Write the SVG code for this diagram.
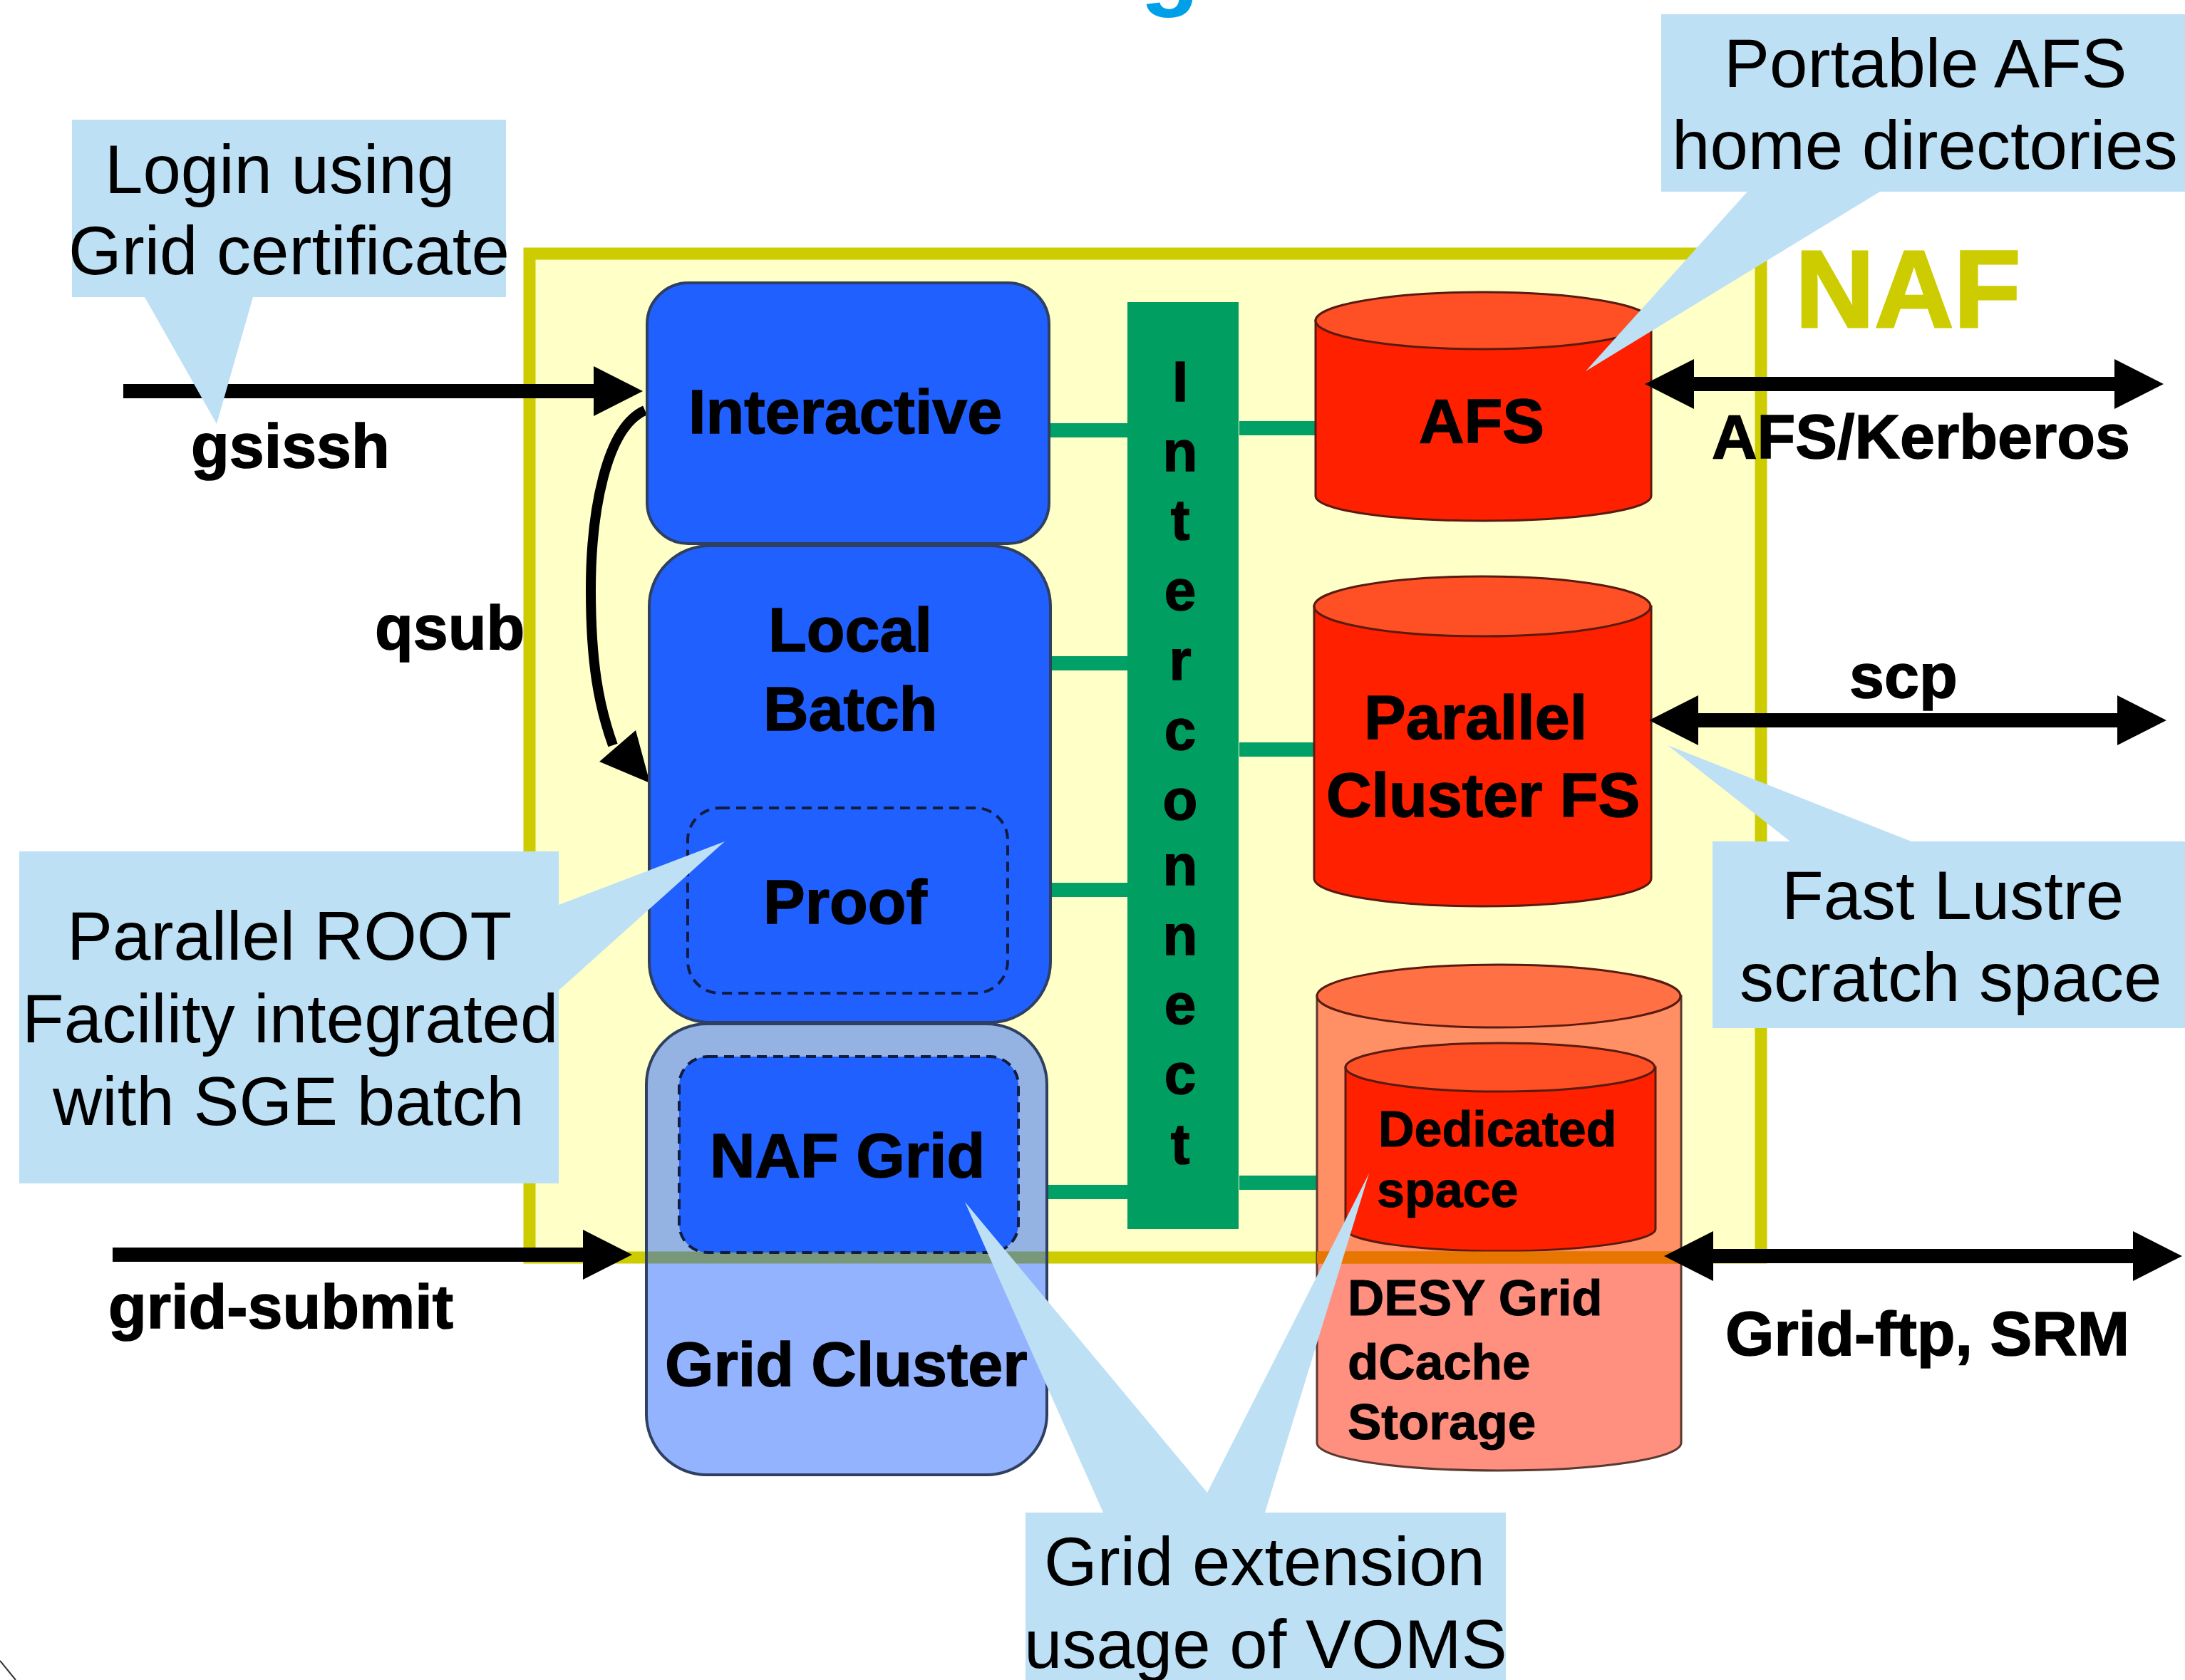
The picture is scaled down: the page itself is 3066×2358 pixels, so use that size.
<svg xmlns="http://www.w3.org/2000/svg" width="3066" height="2358" viewBox="0 0 3066 2358">
<style>
text{font-family:"Liberation Sans",Arial,sans-serif;fill:#000}
.b{font-weight:bold;font-size:88px;stroke:#000;stroke-width:1.5}
.c{font-size:96px}
.s{font-weight:bold;font-size:70px;stroke:#000;stroke-width:1}
.call{fill:#bde0f5}
.box{stroke:#2f3f60;stroke-width:4}
.blue{fill:#2060ff}
.dash{stroke:#101c40;stroke-width:4;stroke-dasharray:14 9;fill:none}
.green{stroke:#00a066;stroke-width:20;fill:none}
.arrow{stroke:#000;stroke-width:20;fill:none}
.cyl{fill:#ff2000;stroke:#5a1a10;stroke-width:3}
.top{fill:#ff5025;stroke:#5a1a10;stroke-width:3}
.il{text-anchor:middle;font-weight:bold;font-size:80px;stroke:#000;stroke-width:1.5}
</style>
<defs>
<marker id="head" markerUnits="userSpaceOnUse" markerWidth="70" markerHeight="72" refX="1" refY="36" orient="auto-start-reverse" viewBox="0 0 70 72"><path d="M0 1L69 36L0 71z" fill="#000"/></marker>
</defs>
<rect width="3066" height="2358" fill="#fff"/>
<text id="title-fragment" x="1600" y="-4" style="font-weight:bold;font-size:136px;fill:#00a0e8">g</text>
<path d="M0 2331L22 2358" stroke="#333" stroke-width="2" fill="none"/>

<g id="naf">
<rect x="743" y="356" width="1728" height="1409" fill="#ffffc8" stroke="#cccc00" stroke-width="17"/>
<text x="2519" y="459" style="font-weight:bold;font-size:154px;fill:#cccc00;stroke:#cccc00;stroke-width:3">NAF</text>
</g>

<g id="connectors">
<path class="green" d="M1473 604H1582M1475 931H1582M1475 1249H1582M1470 1673H1582M1739 601H1846M1739 1052H1845M1739 1660H1848"/>
<line class="arrow" x1="173" y1="549" x2="834" y2="549" marker-end="url(#head)"/>
<line class="arrow" x1="158" y1="1761" x2="819" y2="1761" marker-end="url(#head)"/>
<path d="M905 576C850 600 829 720 829 828C829 930 840 990 860 1046" fill="none" stroke="#000" stroke-width="14"/>
<polygon points="892,1025 841,1069 912,1099" fill="#000"/>
</g>

<g id="interactive">
<rect class="box blue" x="908" y="397" width="564" height="366" rx="58"/>
<text class="b" x="966" y="608">Interactive</text>
</g>
<g id="local-batch">
<rect class="box blue" x="911" y="766" width="563" height="669" rx="85"/>
<text class="b" x="1078" y="914">Local</text>
<text class="b" x="1071" y="1025">Batch</text>
</g>
<g id="proof">
<rect class="dash" x="965" y="1134" width="449" height="260" rx="45"/>
<text class="b" x="1071" y="1296">Proof</text>
</g>
<g id="grid-cluster">
<rect class="box" x="907" y="1437" width="562" height="633" rx="85" fill="#2060ff" fill-opacity=".48"/>
<text class="b" x="933" y="1945">Grid Cluster</text>
</g>
<g id="naf-grid">
<rect class="dash" x="953" y="1483" width="476" height="275" rx="40" style="fill:#2060ff"/>
<text class="b" x="996" y="1652">NAF Grid</text>
</g>

<g id="interconnect">
<rect x="1582" y="424" width="156" height="1301" fill="#009e60"/>
<text class="il" x="1656" y="563">I</text>
<text class="il" x="1656" y="661">n</text>
<text class="il" x="1656" y="757">t</text>
<text class="il" x="1656" y="856">e</text>
<text class="il" x="1656" y="954">r</text>
<text class="il" x="1656" y="1052">c</text>
<text class="il" x="1656" y="1150">o</text>
<text class="il" x="1656" y="1242">n</text>
<text class="il" x="1656" y="1340">n</text>
<text class="il" x="1656" y="1437">e</text>
<text class="il" x="1656" y="1535">c</text>
<text class="il" x="1656" y="1633">t</text>
</g>

<g id="afs">
<path class="cyl" d="M1846 450V696C1846 716 1950 731 2081 731S2317 716 2317 696V450z"/>
<ellipse class="top" cx="2081" cy="450" rx="235" ry="40"/>
<text class="b" x="1991" y="621">AFS</text>
</g>
<g id="parallel-fs">
<path class="cyl" d="M1844 851V1233C1844 1255 1950 1272 2080 1272S2317 1255 2317 1233V851z"/>
<ellipse class="top" cx="2080" cy="851" rx="236" ry="42"/>
<text class="b" x="1914" y="1037">Parallel</text>
<text class="b" x="1861" y="1146">Cluster FS</text>
</g>
<g id="dcache">
<path d="M1848 1398V2025C1848 2047 1960 2064 2103 2064S2359 2047 2359 2025V1398z" fill="#ff2000" fill-opacity=".5" stroke="#5a3a30" stroke-width="3"/>
<ellipse cx="2103" cy="1398" rx="255" ry="44" fill="#ff7045" stroke="#5a1a10" stroke-width="3"/>
<text class="s" x="1891" y="1846" style="font-size:71px">DESY Grid</text>
<text class="s" x="1891" y="1936" style="font-size:71px">dCache</text>
<text class="s" x="1891" y="2020" style="font-size:71px">Storage</text>
</g>
<g id="dedicated">
<path class="cyl" d="M1888 1498V1725C1888 1742 1990 1756 2105 1756S2323 1742 2323 1725V1498z"/>
<ellipse class="top" cx="2105" cy="1498" rx="217" ry="34"/>
<text class="s" x="1934" y="1609">Dedicated</text>
<text class="s" x="1932" y="1694">space</text>
</g>
<path d="M1848 1756.5H2359V1773.5H1848z" fill="#e67600"/>

<g id="connectors-external">
<line class="arrow" x1="2376" y1="539" x2="2968" y2="539" marker-start="url(#head)" marker-end="url(#head)"/>
<line class="arrow" x1="2382" y1="1011" x2="2972" y2="1011" marker-start="url(#head)" marker-end="url(#head)"/>
<line class="arrow" x1="2403" y1="1763" x2="2994" y2="1763" marker-start="url(#head)" marker-end="url(#head)"/>
</g>

<g id="labels">
<text class="b" x="268" y="656">gsissh</text>
<text class="b" x="526" y="911">qsub</text>
<text class="b" x="152" y="1864">grid-submit</text>
<text class="b" x="2402" y="643">AFS/Kerberos</text>
<text class="b" x="2595" y="979">scp</text>
<text class="b" x="2421" y="1902">Grid-ftp, SRM</text>
</g>

<g id="callout-login">
<path class="call" d="M101 168H710V417H355L304 595L203 417H101z"/>
<text class="c" x="147" y="271">Login using</text>
<text class="c" x="96" y="385">Grid certificate</text>
</g>
<g id="callout-afs">
<path class="call" d="M2331 20H3066V269H2638L2225 521L2452 269H2331z"/>
<text class="c" x="2419" y="122">Portable AFS</text>
<text class="c" x="2346" y="237">home directories</text>
</g>
<g id="callout-lustre">
<path class="call" d="M2403 1181H2512L2340 1046L2682 1181H3066V1443H2403z"/>
<text class="c" x="2500" y="1290">Fast Lustre</text>
<text class="c" x="2441" y="1405">scratch space</text>
</g>
<g id="callout-proof">
<path class="call" d="M27 1195H784V1270L1017 1181L784 1390V1661H27z"/>
<text class="c" x="94" y="1347">Parallel ROOT</text>
<text class="c" x="31" y="1463">Facility integrated</text>
<text class="c" x="74" y="1579">with SGE batch</text>
</g>
<g id="callout-voms">
<path class="call" d="M1439 2123H1548L1354 1687L1694 2095L1921 1647L1775 2123H2113V2358H1439z"/>
<text class="c" x="1465" y="2225">Grid extension</text>
<text class="c" x="1437" y="2341">usage of VOMS</text>
</g>
</svg>
